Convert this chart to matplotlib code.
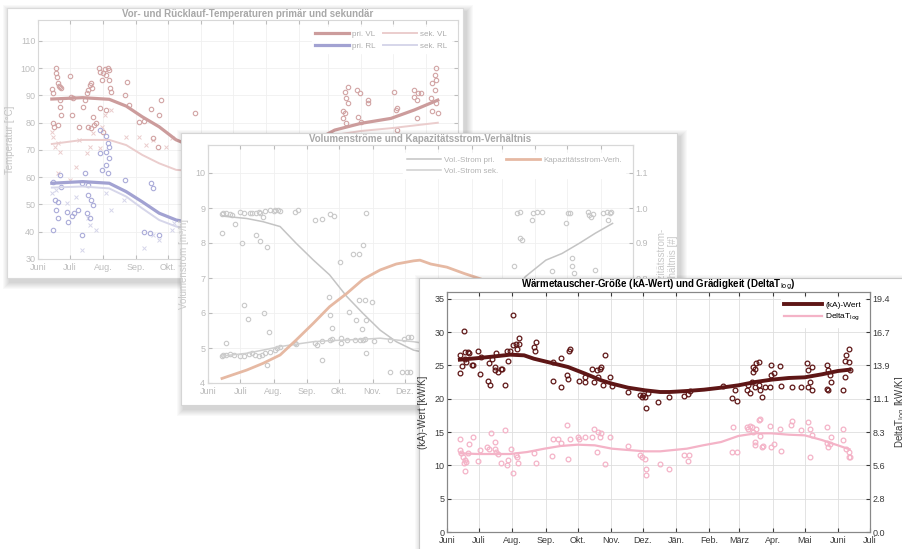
import numpy as np
import pandas as pd
import matplotlib
matplotlib.use('Agg')
import matplotlib.pyplot as plt
from matplotlib.patches import Rectangle

plt.rcParams['font.family'] = ['Liberation Sans', 'DejaVu Sans']

W, H = 902, 549
START = pd.Timestamp('2013-06-01')
months = pd.date_range('2013-06-01', '2014-07-01', freq='MS')
month_labels = ['Juni', 'Juli', 'Aug.', 'Sep.', 'Okt.', 'Nov.', 'Dez.', 'Jän.',
                'Feb.', 'März', 'Apr.', 'Mai', 'Juni', 'Juli']

# ---- panel 1: Vor-/Rücklauf temperatures (day offset from 1 June 2013, degC)
pri_vl_pts = [(13, 92.3), (14, 90.8), (17, 100.0), (17, 98.4), (18, 96.7), (19, 94.5),
              (20, 93.5), (21, 88.3), (21, 85.9), (22, 82.8), (14, 80.0), (15, 78.5),
              (19, 79.2), (21, 93.0), (22, 92.6), (30, 97.2), (31, 89.6), (33, 89.0),
              (32, 82.8), (42, 85.9), (44, 88.3), (46, 90.8), (47, 92.0), (49, 93.9),
              (50, 94.5), (51, 92.6), (52, 82.2), (55, 79.8), (57, 100.0), (58, 98.7),
              (60, 95.7), (61, 98.1), (63, 99.6), (64, 97.5), (66, 100.0), (67, 99.4),
              (67, 95.7), (68, 92.6), (69, 91.4), (58, 85.3), (64, 84.7), (84, 95.1),
              (82, 90.2), (86, 86.5), (95, 80.4), (100, 80.8), (106, 84.9), (116, 88.3),
              (114, 82.8), (148, 83.7), (39, 78.5), (47, 78.5), (50, 78.0), (53, 79.2),
              (61, 76.7), (108, 74.3), (113, 71.2),
              (289, 91.4), (292, 93.2), (290, 89.0), (292, 87.1), (287, 84.4), (289, 83.5),
              (287, 81.6), (290, 79.8), (300, 92.0), (303, 91.0), (310, 88.3), (310, 87.1),
              (301, 82.2), (304, 80.4), (337, 84.7), (335, 91.4), (338, 85.3), (354, 92.0),
              (357, 90.8), (360, 90.8), (354, 89.6), (356, 88.3), (356, 81.6), (370, 89.0),
              (371, 94.5), (373, 97.5), (374, 100.0), (374, 95.7), (373, 92.0), (374, 87.1),
              (371, 84.4), (376, 83.5), (338, 77.3)]
sek_vl_pts = [(13, 76.7), (14, 74.7), (19, 72.5), (16, 71.2), (21, 69.4), (39, 73.7),
              (46, 68.8), (49, 71.2), (52, 76.1), (58, 70.6), (60, 78.5), (63, 82.8),
              (69, 84.7), (83, 74.9), (95, 74.9), (102, 71.8), (108, 73.7), (120, 71.2),
              (126, 74.3), (19, 61.4), (30, 59.0), (36, 63.9)]
pri_rl_pts = [(14, 58.4), (16, 51.7), (17, 48.0), (19, 44.9), (14, 40.6), (21, 60.8),
              (22, 56.5), (27, 47.4), (28, 43.7), (19, 51.0), (32, 45.8), (38, 48.0),
              (41, 58.0), (44, 61.4), (47, 57.2), (47, 53.5), (50, 51.7), (46, 46.8),
              (49, 44.9), (52, 49.8), (58, 77.3), (58, 68.8), (60, 62.7), (64, 75.1),
              (66, 72.5), (67, 71.2), (67, 67.0), (64, 64.5), (66, 61.4), (64, 69.4),
              (82, 59.0), (106, 58.0), (108, 55.9), (100, 40.0), (105, 39.4), (114, 38.8),
              (41, 38.8), (34, 46.8)]
sek_rl_pts = [(13, 54.1), (17, 55.3), (27, 50.4), (36, 52.9), (41, 33.3), (47, 44.9),
              (49, 42.5), (55, 40.6), (64, 54.1), (69, 48.0), (81, 51.7), (100, 33.9),
              (108, 38.8), (114, 37.0), (126, 40.6), (128, 43.1)]
line1_days = [13, 42, 67, 83, 98, 114, 130, 160, 200, 240, 279, 304, 332, 354, 376]
pri_vl_line = [88.7, 89.2, 88.6, 86.1, 82.2, 78.5, 73.7, 69.0, 66.0, 69.0, 77.3, 79.8, 81.6, 84.7, 88.3]
sek_vl_line = [72.2, 73.7, 73.7, 71.8, 68.2, 65.1, 62.7, 62.0, 63.0, 68.0, 75.5, 77.0, 78.0, 79.0, 80.0]
pri_rl_line = [57.8, 58.4, 57.8, 54.7, 51.0, 46.8, 44.3, 42.0, 40.0, 42.0, 45.0, 46.0, 48.0, 49.0, 50.0]
sek_rl_line = [56.2, 56.6, 55.9, 52.9, 48.6, 44.3, 41.9, 40.0, 38.5, 40.0, 43.0, 44.0, 46.0, 47.0, 48.0]

# ---- panel 2: Volumenströme [m3/h] and Kapazitätsstrom-Verhältnis [#]
vol_pri_pts = [(13, 8.82), (14, 8.85), (17, 8.85), (20, 8.83), (22, 8.80), (25, 8.53),
               (30, 8.90), (33, 8.87), (39, 8.85), (41, 8.87), (45, 8.87), (47, 8.90),
               (48, 8.85), (51, 8.75), (53, 8.91), (58, 8.94), (61, 8.92), (62, 8.94),
               (65, 8.94), (67, 8.92), (81, 8.90), (84, 8.94), (99, 8.66), (106, 8.70),
               (113, 8.83), (117, 8.77), (147, 8.87), (13, 8.30), (32, 8.00), (45, 8.23),
               (48, 8.07), (55, 7.88), (144, 7.94), (140, 7.70), (135, 7.70), (123, 7.47),
               (287, 8.85), (290, 8.90), (292, 8.09), (290, 8.13), (301, 8.66), (302, 8.87),
               (306, 8.90), (310, 8.90), (333, 8.56), (335, 8.85), (336, 8.87), (353, 8.90),
               (354, 8.80), (356, 8.75), (358, 8.83), (367, 8.87), (371, 8.90), (374, 8.85),
               (375, 8.90), (372, 8.66), (338, 7.56), (338, 7.34), (340, 7.13), (360, 7.23),
               (284, 7.34), (320, 7.21)]
vol_sek_pts = [(13, 4.77), (14, 4.79), (17, 4.80), (20, 4.83), (24, 4.80), (17, 5.15),
               (30, 4.77), (33, 4.77), (38, 4.82), (41, 4.85), (44, 4.80), (47, 4.77),
               (50, 4.79), (53, 4.85), (55, 4.51), (58, 4.90), (62, 4.94), (64, 4.99),
               (67, 5.04), (81, 5.15), (82, 5.11), (99, 5.15), (101, 5.09), (106, 5.21),
               (106, 4.66), (113, 5.23), (115, 5.25), (124, 5.15), (129, 5.23), (137, 5.23),
               (141, 5.23), (144, 5.23), (146, 5.27), (154, 5.19), (147, 4.85), (169, 4.32),
               (180, 4.32), (185, 4.32), (188, 4.32), (169, 5.23), (182, 5.27), (186, 5.32),
               (189, 5.32), (112, 6.45), (113, 5.94), (115, 5.56), (131, 6.04), (138, 5.80),
               (140, 6.37), (143, 5.53), (146, 6.37), (147, 5.80), (152, 6.32), (124, 5.30),
               (33, 6.23), (37, 5.83), (52, 5.99), (57, 5.47)]
line2_days = [13, 36, 51, 67, 82, 98, 113, 129, 144, 160, 175, 191, 197, 220, 245, 270,
              295, 314, 329, 345, 360, 376]
vol_pri_line = [8.77, 8.70, 8.61, 8.47, 7.99, 7.51, 7.09, 6.47, 5.99, 5.51, 5.18, 4.94,
                4.90, 4.80, 5.20, 6.00, 7.04, 7.51, 7.70, 7.99, 8.28, 8.56]
vol_sek_line = [4.77, 4.85, 4.94, 5.04, 5.11, 5.18, 5.21, 5.23, 5.25, 5.28, 5.23, 5.18,
                5.15, 5.10, 5.05, 5.00, 4.98, 4.95, 4.92, 4.90, 4.88, 4.85]
ratio_days = [13, 36, 51, 67, 82, 98, 113, 129, 144, 160, 175, 191, 197, 207, 222, 238,
              247, 270, 300, 330, 376]
ratio_line = [0.513, 0.537, 0.556, 0.580, 0.623, 0.671, 0.718, 0.756, 0.796, 0.823,
              0.840, 0.849, 0.851, 0.840, 0.831, 0.813, 0.804, 0.78, 0.74, 0.70, 0.66]

# ---- panel 3: kA-Wert [kW/K] and DeltaT_log (plotted on kA scale)
ka_pts = [(12, 26.5), (12, 23.8), (14, 24.9), (16, 30.2), (17, 27.0), (17, 26.0), (18, 25.5),
          (20, 27.0), (21, 26.8), (23, 25.0), (24, 25.0), (29, 27.2), (31, 23.7), (32, 26.2),
          (38, 22.7), (39, 25.3), (40, 22.1), (42, 26.0), (45, 24.8), (45, 24.3), (46, 26.8),
          (48, 24.0), (50, 24.5), (51, 24.4), (54, 22.0), (56, 27.2), (57, 25.7), (59, 27.2),
          (62, 32.6), (62, 28.0), (64, 28.2), (65, 27.5), (67, 28.2), (67, 29.1), (81, 27.7),
          (82, 27.2), (83, 28.5), (99, 25.5), (99, 22.7), (106, 26.1), (106, 21.7), (112, 23.5),
          (113, 23.0), (114, 27.2), (115, 27.5), (123, 22.7), (129, 23.3), (129, 22.5),
          (135, 24.5), (137, 22.5), (140, 24.3), (141, 23.2), (143, 24.5), (144, 24.7),
          (146, 22.0), (148, 26.5), (152, 23.2), (154, 21.9), (169, 21.0), (180, 20.5),
          (182, 20.3), (183, 20.5), (185, 20.3), (186, 18.6), (188, 20.8), (197, 19.5),
          (207, 20.2), (221, 20.4), (225, 20.7), (227, 21.2), (258, 21.9), (266, 20.1),
          (269, 21.3), (271, 19.7), (280, 21.3), (281, 22.0), (283, 20.8), (285, 22.5),
          (286, 24.0), (286, 24.7), (288, 24.5), (289, 25.3), (291, 25.5), (288, 21.8),
          (291, 22.0), (292, 21.3), (294, 20.3), (297, 21.8), (302, 21.8), (303, 23.5),
          (303, 25.0), (305, 23.8), (311, 24.9), (312, 21.9), (322, 21.8), (331, 21.8),
          (336, 25.3), (337, 24.3), (337, 21.8), (339, 22.5), (341, 21.3), (341, 24.7),
          (355, 21.5), (356, 21.3), (355, 25.0), (356, 24.3), (358, 23.5), (359, 22.5),
          (370, 21.3), (372, 23.3), (372, 25.7), (373, 26.5), (375, 27.5), (376, 24.3),
          (375, 25.5)]
dt_pts = [(12, 14.0), (12, 12.3), (13, 11.8), (15, 11.3), (16, 10.3), (17, 9.2), (17, 10.8),
          (18, 10.5), (20, 11.8), (21, 13.2), (24, 14.2), (29, 10.7), (31, 12.3), (37, 12.8),
          (39, 12.4), (41, 14.9), (45, 12.5), (45, 13.5), (46, 12.0), (48, 11.7), (50, 10.3),
          (54, 15.3), (56, 10.0), (57, 10.8), (60, 12.5), (62, 8.8), (64, 11.5), (65, 11.3),
          (66, 10.3), (81, 11.8), (83, 10.4), (98, 11.4), (99, 13.9), (104, 14.0), (106, 13.3),
          (112, 16.0), (113, 10.9), (115, 14.0), (122, 14.3), (123, 13.9), (129, 14.3),
          (135, 14.2), (137, 15.5), (140, 12.0), (141, 15.0), (143, 14.3), (144, 14.8),
          (148, 10.2), (152, 14.3), (169, 12.9), (180, 11.5), (182, 11.3), (185, 10.9),
          (186, 9.5), (186, 8.5), (199, 10.2), (207, 9.5), (221, 11.5), (225, 10.7),
          (226, 11.5), (266, 12.0), (267, 15.7), (271, 12.0), (280, 15.8), (281, 15.5),
          (283, 15.9), (285, 15.8), (286, 15.0), (288, 13.5), (288, 13.0), (289, 15.5),
          (291, 16.8), (292, 17.0), (292, 14.4), (294, 12.8), (295, 12.9), (302, 15.9),
          (303, 12.8), (305, 13.2), (311, 15.5), (312, 12.2), (322, 16.7), (321, 16.0),
          (331, 15.3), (337, 16.5), (339, 15.5), (339, 11.3), (341, 14.5), (355, 15.8),
          (355, 13.4), (356, 12.8), (358, 13.2), (359, 14.2), (370, 15.5), (370, 13.8),
          (373, 12.5), (375, 12.0), (375, 11.3), (376, 11.3)]
ka_line_days = [12, 30, 45, 59, 72, 81, 99, 113, 129, 144, 154, 169, 185, 199, 208, 224,
                240, 256, 272, 288, 303, 319, 334, 350, 365, 376]
ka_line = [25.85, 26.1, 26.35, 26.6, 26.5, 26.0, 25.3, 24.75, 23.75, 22.75, 22.25, 21.65,
           21.25, 21.0, 21.0, 21.15, 21.35, 21.65, 22.0, 22.5, 22.85, 23.1, 23.2, 23.65,
           24.15, 24.35]
dt_line_days = [12, 29, 59, 75, 91, 106, 122, 138, 154, 169, 185, 199, 224, 239, 256, 272,
                288, 303, 319, 334, 350, 365, 376]
dt_line = [11.8, 11.7, 11.7, 12.0, 12.5, 12.9, 13.1, 13.0, 12.5, 12.3, 12.1, 12.1, 12.5,
           13.0, 13.5, 14.4, 14.8, 14.8, 14.6, 14.5, 13.8, 13.0, 12.4]


def dates(days):
    return START + pd.to_timedelta(np.asarray(days), unit='D')


def split(pts):
    d, v = zip(*pts)
    return dates(d), np.array(v)


def box(x0, y0, x1, y1):
    return [x0 / W, 1 - y1 / H, (x1 - x0) / W, (y1 - y0) / H]


def frame(x0, y0, x1, y1, z, ec):
    for k in range(7, 0, -1):
        fig.patches.append(Rectangle(((x0 - k + 3) / W, 1 - (y1 + k + 4) / H),
                                     (x1 - x0 + 2 * k) / W, (y1 - y0 + 2 * k) / H,
                                     transform=fig.transFigure, fc='black', ec='none',
                                     alpha=0.022, zorder=z))
    fig.patches.append(Rectangle((x0 / W, 1 - y1 / H), (x1 - x0) / W, (y1 - y0) / H,
                                 transform=fig.transFigure, fc='white', ec=ec, lw=0.8,
                                 zorder=z))


def style(ax, txt, spine, grid):
    ax.set_xlim(months[0], months[-1])
    ax.set_xticks(months)
    ax.set_xticklabels(month_labels)
    ax.tick_params(direction='in', length=3, labelsize=6.5, colors=txt, top=True, pad=2)
    ax.tick_params(axis='x', pad=3)
    ax.grid(True, color=grid, lw=0.6)
    ax.set_axisbelow(True)
    for s in ax.spines.values():
        s.set_color(spine)


fig = plt.figure(figsize=(W / 100, H / 100), dpi=100)
fig.patch.set_facecolor('white')

# ================= panel 1 =================
frame(7, 8, 463, 278, 1, '#dadada')
ax1 = fig.add_axes(box(38, 20, 458, 259))
ax1.set_zorder(2)
style(ax1, '#bdbdbd', '#d8d8d8', '#f0f0f0')
ax1.tick_params(axis='y', right=True)
ax1.set_ylim(30, 117.7)
ax1.set_yticks(range(30, 111, 10))
c_red, c_red2, c_blue, c_blue2 = '#d2a4a4', '#ebcdcd', '#abacd9', '#d6d6ea'
d, v = split(sek_vl_pts)
ax1.plot(d, v, 'x', color=c_red2, ms=3, mew=0.7)
d, v = split(sek_rl_pts)
ax1.plot(d, v, 'x', color=c_blue2, ms=3, mew=0.7)
d, v = split(pri_vl_pts)
ax1.plot(d, v, 'o', mfc='none', mec=c_red, ms=3.2, mew=0.8)
d, v = split(pri_rl_pts)
ax1.plot(d, v, 'o', mfc='none', mec=c_blue, ms=3.2, mew=0.8)
ld = dates(line1_days)
h1, = ax1.plot(ld, pri_vl_line, color='#cc9c9c', lw=2.3, label='pri. VL')
h2, = ax1.plot(ld, pri_rl_line, color='#a2a2d2', lw=2.3, label='pri. RL')
h3, = ax1.plot(ld, sek_vl_line, color=c_red2, lw=1.4, label='sek. VL')
h4, = ax1.plot(ld, sek_rl_line, color=c_blue2, lw=1.4, label='sek. RL')
leg = ax1.legend(handles=[h1, h2, h3, h4], ncol=2, loc='upper right', fontsize=5.8,
                 frameon=True, edgecolor='white', framealpha=1, handlelength=4.2,
                 borderaxespad=0.9, columnspacing=1.0, labelspacing=0.5, handletextpad=0.4)
for t in leg.get_texts():
    t.set_color('#ababab')
ax1.set_title('Vor- und Rücklauf-Temperaturen primär und sekundär', fontsize=7,
              fontweight='bold', color='#a8a8a8', pad=2)
ax1.set_ylabel('Temperatur [°C]', fontsize=7, color='#c4c4c4')
ax1.yaxis.set_label_coords(-0.055, 0.5)

# ================= panel 2 =================
frame(181, 133, 677, 405, 3, '#d5d5d5')
ax2 = fig.add_axes(box(208, 145, 633, 383))
ax2.set_zorder(4)
style(ax2, '#bababa', '#d8d8d8', '#f0f0f0')
ax2.set_ylim(4, 10.8)
ax2.set_yticks(range(4, 11))
c_gr = '#c9c9c9'
d, v = split(vol_pri_pts)
ax2.plot(d, v, 'o', mfc='none', mec=c_gr, ms=3.2, mew=0.8)
d, v = split(vol_sek_pts)
ax2.plot(d, v, 'o', mfc='none', mec=c_gr, ms=3.2, mew=0.8)
ld = dates(line2_days)
g1, = ax2.plot(ld, vol_pri_line, color='#c4c4c4', lw=1.1, label='Vol.-Strom pri.')
g2, = ax2.plot(ld, vol_sek_line, color='#cfcfcf', lw=1.1, label='Vol.-Strom sek.')
ax2b = ax2.twinx()
ax2b.set_zorder(4.1)
ax2b.patch.set_visible(False)
ax2b.set_ylim(0.5, 1.18)
ax2b.set_yticks([0.5, 0.6, 0.7, 0.8, 0.9, 1.0, 1.1])
ax2b.set_yticklabels([f'{t:.1f}' for t in [0.5, 0.6, 0.7, 0.8, 0.9, 1.0, 1.1]])
ax2b.tick_params(direction='in', length=3, labelsize=6.5, colors='#bababa', pad=2)
for s in ax2b.spines.values():
    s.set_color('#d8d8d8')
g3, = ax2b.plot(dates(ratio_days), ratio_line, color='#e6b9a3', lw=2.0,
                label='Kapazitätsstrom-Verh.')
leg = ax2b.legend(handles=[g1, g2, g3], ncol=2, loc='upper right', fontsize=5.8,
                  frameon=True, edgecolor='white', framealpha=1, handlelength=4.2,
                  borderaxespad=1.0, columnspacing=1.0, labelspacing=0.45, handletextpad=0.4)
for t in leg.get_texts():
    t.set_color('#b2b2b2')
ax2.set_title('Volumenströme und Kapazitätsstrom-Verhältnis', fontsize=7,
              fontweight='bold', color='#a8a8a8', pad=2)
ax2.set_ylabel('Volumenstrom [m³/h]', fontsize=7, color='#c8c8c8')
ax2.yaxis.set_label_coords(-0.045, 0.5)
ax2b.set_ylabel('Kapazitätsstrom-\nVerhältnis [#]', fontsize=7, color='#c8c8c8')
ax2b.yaxis.set_label_coords(1.055, 0.5)

# ================= panel 3 =================
frame(419, 278, 910, 560, 6, '#c8c8c8')
ax3 = fig.add_axes(box(447, 292, 870, 532))
ax3.set_zorder(7)
style(ax3, '#3a3a3a', '#888888', '#dedede')
ax3.set_ylim(0, 36)
ax3.set_yticks(range(0, 36, 5))
c_ka, c_dt = '#5e1616', '#f4b3c7'
d, v = split(dt_pts)
ax3.plot(d, v, 'o', mfc='none', mec=c_dt, ms=3.4, mew=0.9)
d, v = split(ka_pts)
ax3.plot(d, v, 'o', mfc='none', mec=c_ka, ms=3.4, mew=0.9)
k1, = ax3.plot(dates(ka_line_days), ka_line, color=c_ka, lw=2.8, label='(kA)-Wert')
k2, = ax3.plot(dates(dt_line_days), dt_line, color=c_dt, lw=1.6,
               label='DeltaT$_{\\mathrm{log}}$')
ax3b = ax3.twinx()
ax3b.set_zorder(7.1)
ax3b.patch.set_visible(False)
ax3b.set_ylim(0, 20)
rt = np.arange(0, 36, 5) * 20 / 36
ax3b.set_yticks(rt)
ax3b.set_yticklabels([f'{t:.1f}' for t in rt])
ax3b.tick_params(direction='in', length=3, labelsize=6.5, colors='#3a3a3a', pad=2)
for s in ax3b.spines.values():
    s.set_color('#888888')
leg = ax3b.legend(handles=[k1, k2], loc='upper right', fontsize=6, frameon=True,
                  edgecolor='white', framealpha=1, handlelength=4.5,
                  borderaxespad=0.7, labelspacing=0.4, handletextpad=0.4)
ax3.set_title('Wärmetauscher-Größe (kA-Wert) und Grädigkeit (DeltaT$_{\\mathrm{log}}$)',
              fontsize=7, fontweight='bold', color='black', pad=2)
ax3.set_ylabel('(kA)-Wert [kW/K]', fontsize=7, color='#3a3a3a')
ax3.yaxis.set_label_coords(-0.045, 0.5)
ax3b.set_ylabel('DeltaT$_{\\mathrm{log}}$ [kW/K]', fontsize=7, color='#3a3a3a')
ax3b.yaxis.set_label_coords(1.055, 0.5)
ax3.text(pd.Timestamp('2014-01-01'), -3.2, '2014', fontsize=6.5, color='#3a3a3a',
         ha='center', va='top', clip_on=False)

fig.savefig('out.png', dpi=100, facecolor='white')
